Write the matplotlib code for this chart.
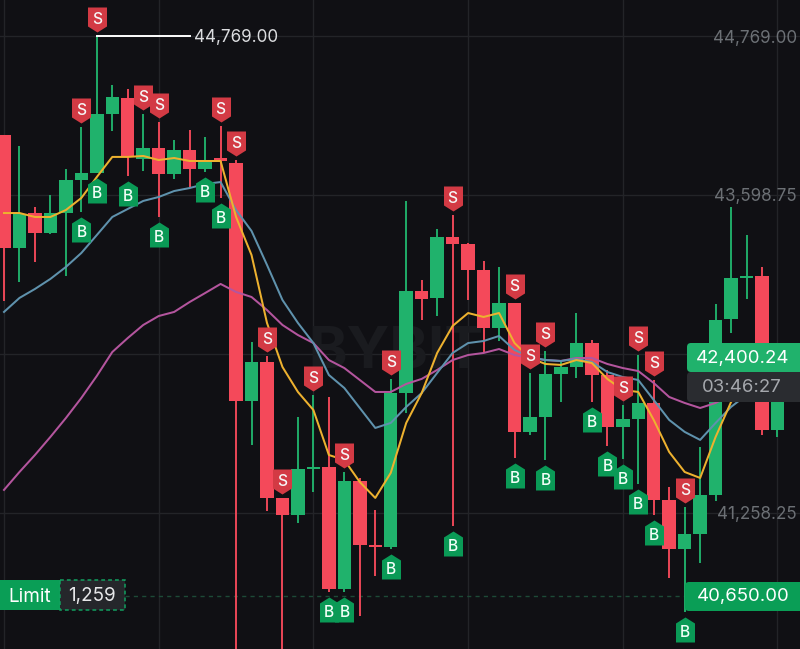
import matplotlib
matplotlib.use("Agg")
import matplotlib.pyplot as plt
from matplotlib.path import Path
from matplotlib.patches import FancyBboxPatch, Rectangle

plt.rcParams['font.family'] = ['Inter', 'DejaVu Sans']

opens = [44040,43209,43466,43319,43466,43709,43761,44195,44313,43864,43945,43753,43930,43790,43871,43834,42083,42370,41369,41244,41582,41597,40699,41494,41023,41008,42141,42892,42841,43290,43238,43047,42620,42804,41855,41965,42281,42333,42509,42274,41891,41950,42068,41354,40993,41104,41391,42686,42988,43003,41869]
highs = [44040,43959,43510,43599,43790,44099,44769,44408,44379,44195,44136,44004,44077,44026,44107,43856,42517,42414,41369,41965,42127,42112,41560,41516,41280,42245,43555,42973,43349,43452,43245,43113,43069,42804,42289,42451,42384,42730,42532,42311,42053,42421,42237,41450,41302,41744,42797,43510,43304,43069,42400]
lows = [42819,42958,43106,43312,43003,43474,43761,44070,43739,43775,43437,43717,43658,43768,43577,40176,41759,41273,40176,41185,41413,40677,40677,40500,40795,40993,41994,42679,42708,41163,42826,42443,42524,41663,41832,41648,42075,42252,42075,41751,41656,41472,41244,40780,40530,40890,41347,42583,42833,41832,41818]
closes = [43209,43459,43319,43466,43709,43761,44195,44320,43879,43945,43753,43930,43790,43856,43849,42083,42370,41369,41244,41582,41597,40699,41494,41023,41008,42141,42892,42833,43290,43238,43047,42620,42804,41855,41965,42281,42333,42509,42274,41891,41950,42068,41354,40993,41104,41391,42679,42988,43003,41869,42400]

ma_yellow = [43466,43466,43437,43437,43488,43577,43731,43879,43879,43886,43856,43871,43849,43849,43849,43437,43157,42657,42333,42149,42016,41685,41648,41486,41369,41553,41921,42141,42436,42635,42730,42701,42730,42509,42399,42355,42348,42384,42362,42245,42164,42149,41943,41707,41560,41516,41818,42075,42200,42200,42200]
ma_blue = [42738,42841,42907,42981,43069,43172,43304,43437,43496,43555,43584,43628,43650,43680,43694,43488,43334,43084,42826,42657,42509,42274,42178,42031,41884,41921,42039,42141,42289,42436,42509,42524,42561,42458,42407,42384,42377,42392,42370,42296,42259,42237,42090,41943,41855,41796,41921,42039,42127,42127,42127]
ma_purple = [41428,41560,41685,41818,41957,42105,42267,42443,42546,42642,42708,42738,42811,42877,42944,42885,42848,42752,42642,42568,42509,42384,42325,42237,42149,42149,42208,42245,42311,42384,42421,42436,42465,42421,42399,42384,42377,42399,42399,42355,42325,42303,42215,42112,42068,42031,42068,42127,42164,42164,42164]

sell_idx = [5,6,9,10,14,15,17,18,20,22,25,29,33,34,35,40,41,42,44]
buy_idx = [5,6,8,10,13,14,21,22,25,29,33,35,38,39,40,41,42,44]

price_ticks = [44769.00, 43598.75, 42428.50, 41258.25]
tick_labels = ['44,769.00', '43,598.75', '', '41,258.25']
time_ticks = [0, 10, 20, 30, 40, 50]

high_value = 44769.00
last_price = 42400.24
countdown = '03:46:27'
limit_price = 40650.00
limit_qty = '1,259'

BG = '#101014'
GRID = '#232428'
UP = '#20B26C'
DOWN = '#F4495A'
S_COL = '#D33A44'
B_COL = '#0A9A56'

fig = plt.figure(figsize=(8, 6.49), dpi=100, facecolor=BG)
ax = fig.add_axes([0, 0, 1, 1], facecolor=BG)
ax.set_xlim(-0.2585, 51.455)
ax.set_ylim(40257, 45034)
for s in ax.spines.values():
    s.set_visible(False)
ax.set_axisbelow(True)
ax.set_xticks(time_ticks)
ax.set_xticklabels([])
ax.set_yticks(price_ticks)
ax.set_yticklabels(tick_labels)
ax.grid(True, color=GRID, lw=1.0)
ax.tick_params(axis='x', length=0)
ax.tick_params(axis='y', length=0, labelleft=False, labelright=True, pad=-2.2,
               labelsize=12.3, labelcolor='#6c7075')
for t in ax.get_yticklabels():
    t.set_ha('right')
    t.set_va('center_baseline')

ax.text(0.495, 0.4565, 'BYBIT', transform=ax.transAxes, ha='center', va='center',
        fontsize=42, fontweight='bold', color='#1a1b1f', zorder=1)

xs = list(range(len(opens)))
colors = [UP if c >= o else DOWN for o, c in zip(opens, closes)]
ax.vlines(xs, lows, highs, colors=colors, lw=1.35, zorder=2)
for x, o, c, col in zip(xs, opens, closes, colors):
    ax.bar(x, max(abs(c - o), 12), bottom=min(o, c), width=0.87, color=col, lw=0, zorder=2)

ax.plot(xs, ma_purple, color='#B4559E', lw=1.45, zorder=3)
ax.plot(xs, ma_blue, color='#5F92AD', lw=1.45, zorder=3)
ax.plot(xs, ma_yellow, color='#EDB12F', lw=1.45, zorder=3)

# high marker
ax.annotate(f'{high_value:,.2f}', xy=(6, high_value), xytext=(97, -1),
            textcoords='offset pixels', color='#dcdde0', fontsize=12.3, va='center', ha='left', zorder=6)
ax.plot([6, 6 + 93 / 15.47], [high_value, high_value], color='white', lw=1.4, zorder=6)

S_PATH = Path([(0, 4), (9.5, 10), (9.5, 29), (-9.5, 29), (-9.5, 10), (0, 4)], closed=True)
B_PATH = Path([(0, -5), (9.5, -11), (9.5, -30), (-9.5, -30), (-9.5, -11), (0, -5)], closed=True)
ax.plot(sell_idx, [highs[i] for i in sell_idx], ls='', marker=S_PATH, ms=41.76, mfc=S_COL, mew=0, zorder=4, clip_on=False)
ax.plot(buy_idx, [lows[i] for i in buy_idx], ls='', marker=B_PATH, ms=43.2, mfc=B_COL, mew=0, zorder=4, clip_on=False)
for i in sell_idx:
    ax.annotate('S', xy=(i, highs[i]), xytext=(0, 18), textcoords='offset pixels', ha='center', va='center_baseline',
                color='#f6f6f6', fontsize=11.2, fontweight='medium', zorder=5)
for i in buy_idx:
    ax.annotate('B', xy=(i, lows[i]), xytext=(0, -19), textcoords='offset pixels', ha='center', va='center_baseline',
                color='#f2fff8', fontsize=11.2, fontweight='medium', zorder=5)

ax.plot([125 / 800 * 51.7135 - 0.2585, 687 / 800 * 51.7135 - 0.2585], [limit_price] * 2,
        color='#1d4a37', lw=1, ls=(0, (3, 3)), zorder=1.5)

# overlay in pixel coordinates for labels
ov = fig.add_axes([0, 0, 1, 1], facecolor='none', zorder=10)
ov.set_xlim(0, 800)
ov.set_ylim(649, 0)
ov.axis('off')

def box(x, y, w, h, color, r=4):
    ov.add_patch(FancyBboxPatch((x + r, y + r), w - 2 * r, h - 2 * r, boxstyle=f'round,pad={r}',
                                fc=color, ec='none', lw=0))

box(687, 343, 130, 29, UP)
box(687, 372, 130, 30, '#2a2c30')
box(685, 582, 130, 29, '#0A9E56')
ov.text(743, 359, f'{last_price:,.2f}', color='white', fontsize=13.4, ha='center', va='center')
ov.text(742, 388, countdown, color='#a5a8ad', fontsize=13.4, ha='center', va='center')
ov.text(743, 597, f'{limit_price:,.2f}', color='white', fontsize=13.4, ha='center', va='center')

ov.add_patch(Rectangle((-2, 580), 62, 30, fc='#0A9E56', ec='none'))
ov.add_patch(Rectangle((60, 580), 65, 30, fc='#25272b', ec='#12a060', lw=1.1, ls=(0, (2.5, 2))))
ov.text(8, 596.5, 'Limit', color='white', fontsize=13.6, ha='left', va='center')
ov.text(68, 596.5, limit_qty, color='#e6e7e9', fontsize=13.6, ha='left', va='center')

fig.savefig('out.png', dpi=100, facecolor=BG)
